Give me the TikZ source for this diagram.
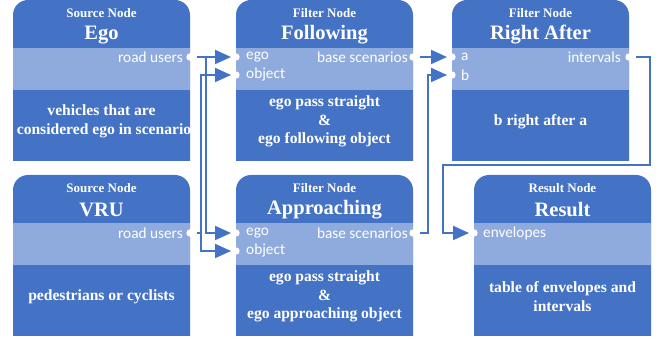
\documentclass[tikz,border=0pt]{standalone}
\usepackage{fontspec}
\setmainfont{Liberation Serif}
\newfontfamily\portfont{Carlito}
\usetikzlibrary{arrows.meta}

\definecolor{boxblue}{HTML}{4472C4}
\definecolor{bandblue}{HTML}{8FAADC}

% One query block: rounded header, port band and description
% #1 name, #2 left x, #3 top y, #4 kind, #5 title, #6 description
\newcommand\queryblock[6]{%
  \begin{scope}[shift={(#2,#3)}]
    \fill[boxblue] (0,161) [rounded corners=15pt] -- (0,0) -- (177,0) [sharp corners] -- (177,161) -- cycle;
    \fill[bandblue] (0,48.5) rectangle (177,90);
    \node[kindtext] (#1-kind) at (88.5,13) {#4};
    \node[titletext] (#1-title) at (88.5,35) {#5};
    \begin{scope}
      \clip (0,90) rectangle (177,161);
      \node[bodytext] (#1-body) at (88.5,121.5) {#6};
    \end{scope}
  \end{scope}}

\tikzset{
  kindtext/.style={text=white, font=\bfseries\fontsize{13}{15}\selectfont, inner sep=0pt},
  titletext/.style={text=white, font=\bfseries\fontsize{20.5}{23}\selectfont, inner sep=0pt},
  bodytext/.style={text=white, font=\bfseries\fontsize{15.6}{18.5}\selectfont, align=center, inner sep=0pt},
  portin/.style={text=white, font=\portfont\fontsize{15.3}{17}\selectfont, anchor=west, inner sep=0pt},
  portout/.style={text=white, font=\portfont\fontsize{15.3}{17}\selectfont, anchor=east, inner sep=0pt},
  portdot/.style={fill=white},
  link/.style={draw=boxblue, line width=2pt, line join=miter,
    shorten <=7pt, shorten >=5pt, -{Triangle[length=16pt,width=14pt]}},
}

\begin{document}
\begin{tikzpicture}[x=1pt, y=-1pt]
  \useasboundingbox (0,0) rectangle (662,339);

  % blocks
  \queryblock{ego}{13}{0}{Source Node}{Ego}{vehicles that are\\\hspace*{5pt}considered ego in scenario}
  \queryblock{vru}{13}{175}{Source Node}{VRU}{pedestrians or cyclists}
  \queryblock{fol}{236}{0}{Filter Node}{Following}{ego pass straight\\\&\\ego following object}
  \queryblock{app}{236}{175}{Filter Node}{Approaching}{ego pass straight\\\&\\ego approaching object}
  \queryblock{ra}{452}{0}{Filter Node}{Right After}{b right after a}
  \queryblock{res}{474}{175}{Result Node}{Result}{table of envelopes and\\intervals}

  % ports
  \coordinate (ego-ru) at (190,57);
  \coordinate (vru-ru) at (190,233);
  \coordinate (fol-ego) at (236,57);
  \coordinate (fol-obj) at (236,75);
  \coordinate (fol-base) at (413,57);
  \coordinate (app-ego) at (236,233);
  \coordinate (app-obj) at (236,251);
  \coordinate (app-base) at (413,233);
  \coordinate (ra-a) at (452,57);
  \coordinate (ra-b) at (452,75);
  \coordinate (ra-int) at (629,57);
  \coordinate (res-env) at (474,233);

  \node[portout] (ego-ru-l) at (183,57) {road users};
  \node[portout] (vru-ru-l) at (183,233) {road users};
  \node[portin] (fol-ego-l) at (246,57) {ego};
  \node[portin] (fol-obj-l) at (246,75) {object};
  \node[portout] (fol-base-l) at (408,57) {base scenarios};
  \node[portin] (app-ego-l) at (246,233) {ego};
  \node[portin] (app-obj-l) at (246,251) {object};
  \node[portout] (app-base-l) at (408,233) {base scenarios};
  \node[portin] (ra-a-l) at (461,57) {a};
  \node[portin] (ra-b-l) at (461,75) {b};
  \node[portout] (ra-int-l) at (621,57) {intervals};
  \node[portin] (res-env-l) at (483,233) {envelopes};

  \foreach \p in {ego-ru,vru-ru,fol-ego,fol-obj,fol-base,app-ego,app-obj,app-base,ra-a,ra-b,ra-int,res-env}
    \fill[portdot] (\p) circle (3.7);

  % connectors
  \draw[link] (ego-ru) -- (fol-ego);
  \draw[link] (ego-ru) -- ++(16,0) |- (app-ego);
  \draw[link] (vru-ru) -- ++(11,0) |- (fol-obj);
  \draw[link] (vru-ru) -- ++(11,0) |- (app-obj);
  \draw[link] (fol-base) -- (ra-a);
  \draw[link] (app-base) -- ++(15,0) |- (ra-b);
  \coordinate (loop) at (443,165);
  \draw[link] (ra-int) -- ++(21,0) |- (loop) |- (res-env);
\end{tikzpicture}
\end{document}
